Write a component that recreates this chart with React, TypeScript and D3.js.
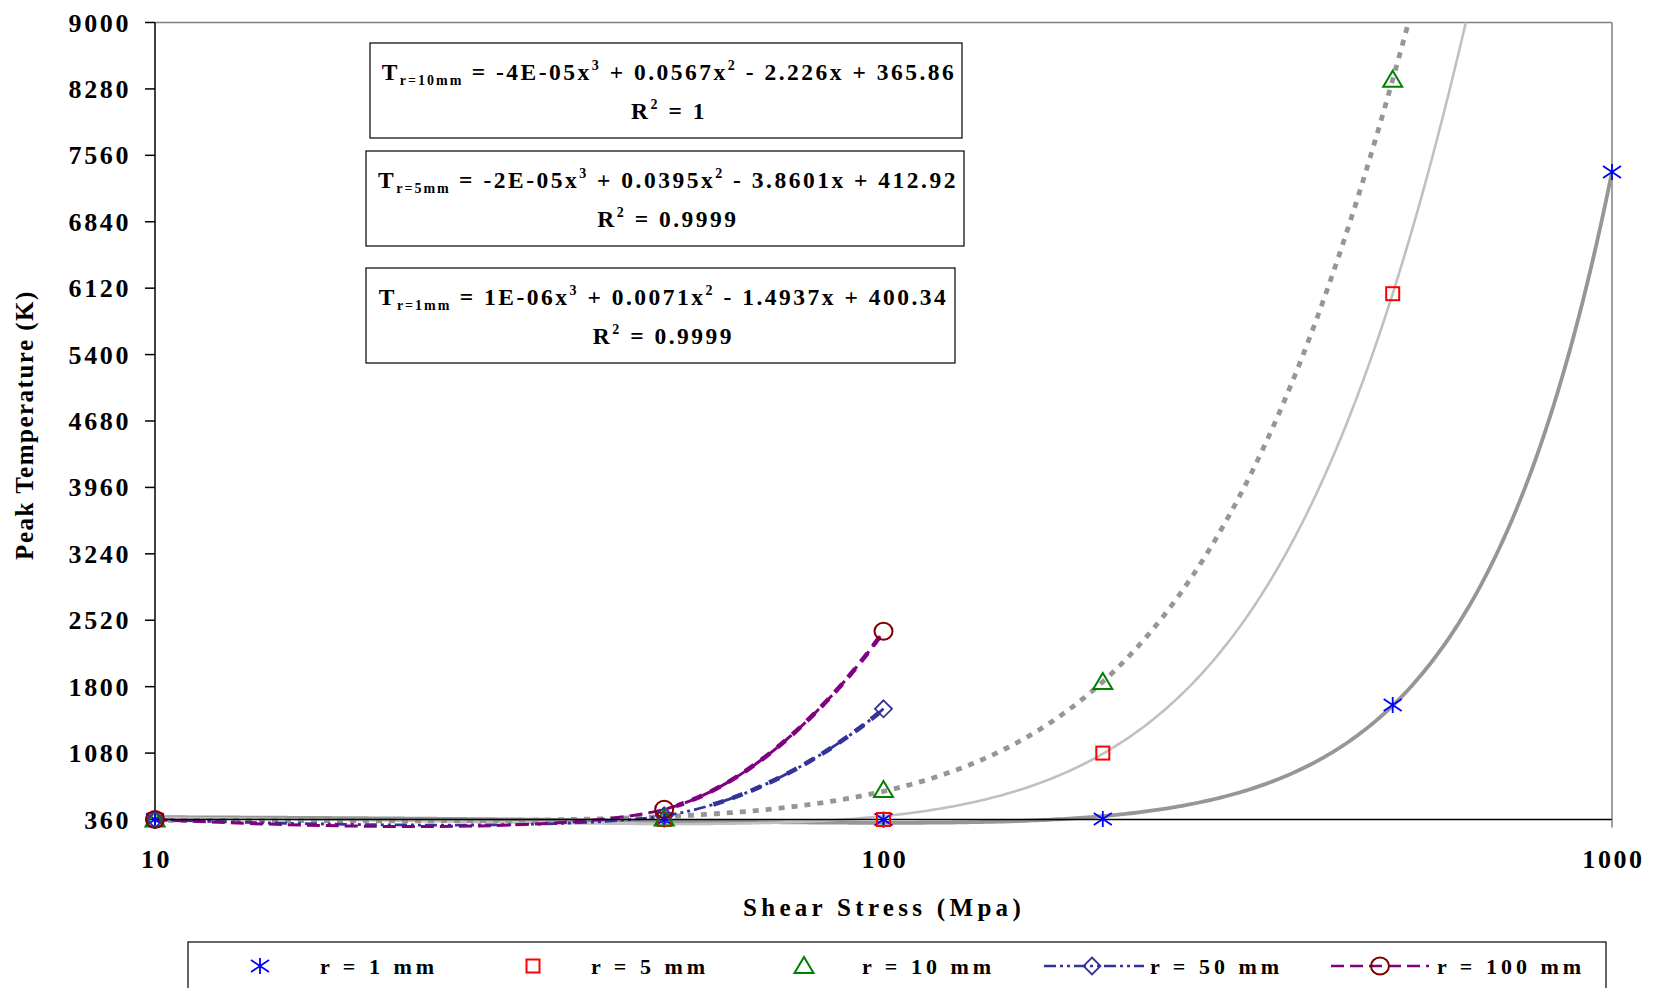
import React from 'react';
import * as d3 from 'd3';

// ---------- data ----------
const xTicks = [10, 100, 1000];
const yTicks = [360, 1080, 1800, 2520, 3240, 3960, 4680, 5400, 6120, 6840, 7560, 8280, 9000];

const stressR1 = [10, 50, 100, 200, 500, 1000];
const tempR1 = [360, 360, 360, 365, 1600, 7380];
const stressR5 = [10, 50, 100, 200, 500];
const tempR5 = [360, 360, 360, 1080, 6060];
const stressR10 = [10, 50, 100, 200, 500];
const tempR10 = [360, 372, 680, 1850, 8380];
const stressR50 = [10, 50, 100];
const tempR50 = [360, 400, 1560];
const stressR100 = [10, 50, 100];
const tempR100 = [360, 470, 2400];

const legendLabels = ['r = 1 mm', 'r = 5 mm', 'r = 10 mm', 'r = 50 mm', 'r = 100 mm'];

const eqSubs = ['r=10mm', 'r=5mm', 'r=1mm'];
const eqCubic = ['-4E-05', '-2E-05', '1E-06'];
const eqSquare = ['0.0567', '0.0395', '0.0071'];
const eqLinear = ['2.226', '3.8601', '1.4937'];
const eqConst = ['365.86', '412.92', '400.34'];
const eqR2 = ['1', '0.9999', '0.9999'];

// ---------- cubic least squares (Excel polynomial trendline) ----------
function cubicFit(xs: number[], ys: number[]) {
  const s = 1000;
  const n = 4;
  const A: number[][] = Array.from({ length: n }, () => Array(n + 1).fill(0));
  xs.forEach((xv, i) => {
    const u = xv / s;
    const p = [1, u, u * u, u * u * u];
    for (let r = 0; r < n; r++) {
      for (let c = 0; c < n; c++) A[r][c] += p[r] * p[c];
      A[r][n] += p[r] * ys[i];
    }
  });
  for (let i = 0; i < n; i++) {
    let piv = i;
    for (let k = i + 1; k < n; k++) if (Math.abs(A[k][i]) > Math.abs(A[piv][i])) piv = k;
    [A[i], A[piv]] = [A[piv], A[i]];
    for (let k = i + 1; k < n; k++) {
      const f = A[k][i] / A[i][i];
      for (let c = i; c <= n; c++) A[k][c] -= f * A[i][c];
    }
  }
  const co = Array(n).fill(0);
  for (let i = n - 1; i >= 0; i--) {
    let sum = A[i][n];
    for (let c = i + 1; c < n; c++) sum -= A[i][c] * co[c];
    co[i] = sum / A[i][i];
  }
  return (xv: number) => {
    const u = xv / s;
    return co[0] + co[1] * u + co[2] * u * u + co[3] * u * u * u;
  };
}

const FONT = "'Liberation Serif', 'Times New Roman', serif";

// ---------- markers ----------
function Star({ cx, cy }: { cx: number; cy: number }) {
  const w = 9, h = 8;
  return (
    <path
      d={`M${cx - w},${cy - h * 0.75}L${cx + w},${cy + h * 0.75}M${cx - w},${cy + h * 0.75}L${cx + w},${cy - h * 0.75}M${cx},${cy - h}L${cx},${cy + h}`}
      stroke="#0000FF" strokeWidth={1.8} fill="none" />
  );
}
function Square({ cx, cy }: { cx: number; cy: number }) {
  return <rect x={cx - 6.5} y={cy - 6.5} width={13} height={13} stroke="#FF0000" strokeWidth={2} fill="none" />;
}
function Triangle({ cx, cy }: { cx: number; cy: number }) {
  return <path d={`M${cx},${cy - 9}L${cx + 9.5},${cy + 7}L${cx - 9.5},${cy + 7}Z`} stroke="#008000" strokeWidth={2} fill="none" />;
}
function Diamond({ cx, cy }: { cx: number; cy: number }) {
  return <path d={`M${cx},${cy - 8.5}L${cx + 8.5},${cy}L${cx},${cy + 8.5}L${cx - 8.5},${cy}Z`} stroke="#333399" strokeWidth={1.8} fill="none" />;
}
function Circle({ cx, cy }: { cx: number; cy: number }) {
  return <ellipse cx={cx} cy={cy} rx={9} ry={8.5} stroke="#800000" strokeWidth={2} fill="none" />;
}

export default function App() {
  const W = 1654, H = 988;
  const left = 155, right = 1612, top = 22.5, bottom = 819.5;
  const x = d3.scaleLog().domain([10, 1000]).range([left, right]);
  const y = d3.scaleLinear().domain([360, 9000]).range([bottom, top]);

  const samples = d3.range(0, 401).map((i) => 10 * Math.pow(100, i / 400));
  const trend = (xs: number[], ys: number[]) => {
    const f = cubicFit(xs, ys);
    return d3.line<number>().x((d) => x(d)).y((d) => y(f(d)))(samples) || '';
  };
  const smooth = d3.line<[number, number]>().x((d) => x(d[0])).y((d) => y(d[1])).curve(d3.curveCardinal.tension(0));

  const pts = (xs: number[], ys: number[]) => xs.map((v, i) => [v, ys[i]] as [number, number]);

  const eqBoxes = [
    { x0: 370, x1: 962, y0: 43, y1: 138 },
    { x0: 366, x1: 964, y0: 151, y1: 246 },
    { x0: 366, x1: 955, y0: 268, y1: 363 },
  ];

  const legendY = 966;
  const legendTextX = [320, 591, 862, 1150, 1437];

  return (
    <svg width={W} height={H} style={{ position: 'absolute', left: 0, top: 0, background: '#fff' }}>
      <defs>
        <clipPath id="plotClip">
          <rect x={left} y={top} width={right - left} height={bottom - top + 14} />
        </clipPath>
        <clipPath id="upperClip50">
          <rect x={x(58)} y={top} width={right - x(58)} height={bottom - top + 14} />
        </clipPath>
        <clipPath id="upperClip100">
          <rect x={x(52)} y={top} width={right - x(52)} height={bottom - top + 14} />
        </clipPath>
      </defs>
      <rect x={0} y={0} width={W} height={H} fill="#fff" />

      {/* plot frame */}
      <line x1={left} x2={right} y1={top} y2={top} stroke="#808080" strokeWidth={1.5} />
      <line x1={right} x2={right} y1={top} y2={bottom} stroke="#808080" strokeWidth={1.5} />

      {/* trendlines and series lines */}
      <g clipPath="url(#plotClip)" fill="none">
        <path d={trend(stressR1, tempR1)} stroke="#969696" strokeWidth={3.8} />
        <path d={trend(stressR5, tempR5)} stroke="#C0C0C0" strokeWidth={2.6} />
        <path d={trend(stressR10, tempR10)} stroke="#969696" strokeWidth={4.8} strokeDasharray="6,7" />
        <path d={smooth(pts(stressR50, tempR50)) || ''} stroke="#333399" strokeWidth={2.8} strokeDasharray="12,4,3,4,3,4" />
        <path d={smooth(pts(stressR100, tempR100)) || ''} stroke="#800080" strokeWidth={3} strokeDasharray="13,6" />
      </g>
      <g clipPath="url(#upperClip50)" fill="none">
        <path d={smooth(pts(stressR50, tempR50)) || ''} stroke="#333399" strokeWidth={4.6} strokeDasharray="11,9" />
      </g>
      <g clipPath="url(#upperClip100)" fill="none">
        <path d={smooth(pts(stressR100, tempR100)) || ''} stroke="#800080" strokeWidth={4.6} strokeDasharray="11,9" />
      </g>

      {/* axes */}
      <line x1={left} x2={left} y1={top} y2={bottom} stroke="#000" strokeWidth={1.5} />
      <line x1={left} x2={right} y1={bottom} y2={bottom} stroke="#000" strokeWidth={1.5} />
      {yTicks.map((t) => (
        <g key={t}>
          <line x1={left - 10} x2={left} y1={y(t)} y2={y(t)} stroke="#000" strokeWidth={1.5} />
          <text x={131} y={y(t) + 9} textAnchor="end" fontFamily={FONT} fontWeight="bold" fontSize={26} letterSpacing={2.6}>
            {t}
          </text>
        </g>
      ))}
      {xTicks.map((t) => (
        <g key={t}>
          <line x1={x(t)} x2={x(t)} y1={bottom} y2={bottom + 8} stroke={t === 1000 ? '#808080' : '#000'} strokeWidth={1.5} />
          <text x={x(t) + 1.5} y={868} textAnchor="middle" fontFamily={FONT} fontWeight="bold" fontSize={26} letterSpacing={2.6}>
            {t}
          </text>
        </g>
      ))}

      {/* axis titles */}
      <text x={884} y={916} textAnchor="middle" fontFamily={FONT} fontWeight="bold" fontSize={25} letterSpacing={4.3}>
        Shear Stress (Mpa)
      </text>
      <text transform={`translate(33,425) rotate(-90)`} textAnchor="middle" fontFamily={FONT} fontWeight="bold" fontSize={25} letterSpacing={1.5}>
        Peak Temperature (K)
      </text>

      {/* markers */}
      {stressR1.map((v, i) => <Star key={'a' + i} cx={x(v)} cy={y(tempR1[i])} />)}
      {stressR5.map((v, i) => <Square key={'b' + i} cx={x(v)} cy={y(tempR5[i])} />)}
      {stressR10.map((v, i) => <Triangle key={'c' + i} cx={x(v)} cy={y(tempR10[i])} />)}
      {stressR50.map((v, i) => <Diamond key={'d' + i} cx={x(v)} cy={y(tempR50[i])} />)}
      {stressR100.map((v, i) => <Circle key={'e' + i} cx={x(v)} cy={y(tempR100[i])} />)}

      {/* equation boxes */}
      {eqBoxes.map((b, i) => {
        const cx = (b.x0 + b.x1) / 2 + 3;
        const yl1 = b.y0 + 37;
        const yl2 = b.y0 + 76;
        return (
          <g key={'eq' + i}>
            <rect x={b.x0} y={b.y0} width={b.x1 - b.x0} height={b.y1 - b.y0} fill="#fff" stroke="#000" strokeWidth={1.2} />
            <text x={cx} y={yl1} textAnchor="middle" fontFamily={FONT} fontWeight="bold" fontSize={23.5} letterSpacing={2.5}>
              <tspan>T</tspan>
              <tspan fontSize={14} dy={5} letterSpacing={2}>{eqSubs[i]}</tspan>
              <tspan dy={-5}>{` = ${eqCubic[i]}x`}</tspan>
              <tspan fontSize={14} dy={-10}>3</tspan>
              <tspan dy={10}>{` + ${eqSquare[i]}x`}</tspan>
              <tspan fontSize={14} dy={-10}>2</tspan>
              <tspan dy={10}>{` - ${eqLinear[i]}x + ${eqConst[i]}`}</tspan>
            </text>
            <text x={cx} y={yl2} textAnchor="middle" fontFamily={FONT} fontWeight="bold" fontSize={23.5} letterSpacing={2.5}>
              <tspan>R</tspan>
              <tspan fontSize={14} dy={-10}>2</tspan>
              <tspan dy={10}>{` = ${eqR2[i]}`}</tspan>
            </text>
          </g>
        );
      })}

      {/* legend */}
      <rect x={188} y={942} width={1606 - 188} height={80} fill="#fff" stroke="#000" strokeWidth={1.2} />
      <Star cx={260} cy={legendY} />
      <Square cx={533} cy={legendY} />
      <Triangle cx={804} cy={legendY} />
      <line x1={1044} x2={1144} y1={legendY} y2={legendY} stroke="#333399" strokeWidth={2.5} strokeDasharray="12,4,3,4,3,4" />
      <Diamond cx={1092} cy={legendY} />
      <line x1={1331} x2={1429} y1={legendY} y2={legendY} stroke="#800080" strokeWidth={2.5} strokeDasharray="13,6" />
      <Circle cx={1380} cy={legendY} />
      {legendLabels.map((l, i) => (
        <text key={l} x={legendTextX[i]} y={legendY + 8} fontFamily={FONT} fontWeight="bold" fontSize={22} letterSpacing={4}>
          {l}
        </text>
      ))}
    </svg>
  );
}
